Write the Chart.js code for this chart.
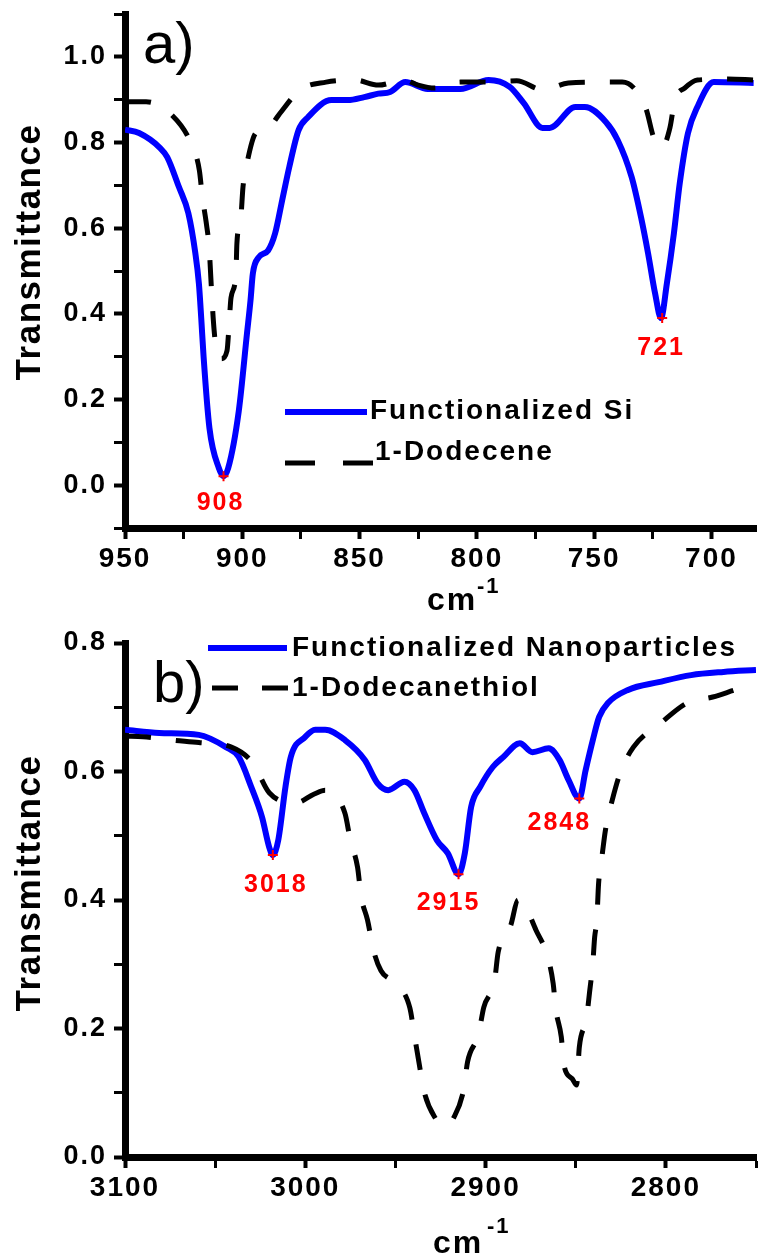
<!DOCTYPE html>
<html>
<head>
<meta charset="utf-8">
<title>FTIR transmittance</title>
<script src="https://cdn.jsdelivr.net/npm/chart.js@4.4.1/dist/chart.umd.min.js"></script>
<style>
  html, body { margin: 0; padding: 0; background: #fff; }
  #wrap { position: relative; width: 763px; height: 1258px; overflow: hidden; }
  #wrap canvas { position: absolute; left: 0; }
  #chart-a { top: 0; }
  #chart-b { top: 620px; }
</style>
</head>
<body>
<div id="wrap">
  <canvas id="chart-a" width="763" height="620"></canvas>
  <canvas id="chart-b" width="763" height="638"></canvas>
</div>
<script>
'use strict';

/* ─── Data: panel a (Si, 950–680 cm-1) ─────────────────────── */
const siWave  = [950, 944, 935, 932, 927, 923, 920, 918.5, 917.5, 916.5, 914, 910, 908, 906, 901.5, 898, 896.5, 895.5, 893, 889,
                 886, 883, 880, 876, 872, 862, 855, 848, 842, 837, 830.5, 821, 807, 795, 786, 780, 772, 769, 758, 754,
                 745, 740, 734, 730, 727, 724, 721.5, 719, 716, 713.5, 710, 706, 699, 682];
const siTrans = [0.83, 0.822, 0.787, 0.766, 0.696, 0.635, 0.541, 0.471, 0.39, 0.30, 0.133, 0.04, 0.021, 0.04, 0.173, 0.354, 0.431, 0.494, 0.532, 0.548,
                 0.588, 0.665, 0.742, 0.829, 0.859, 0.899, 0.899, 0.906, 0.914, 0.918, 0.941, 0.925, 0.925, 0.946, 0.93, 0.892, 0.834, 0.834, 0.883, 0.883,
                 0.848, 0.806, 0.719, 0.625, 0.541, 0.447, 0.39, 0.471, 0.588, 0.705, 0.822, 0.883, 0.941, 0.939];

const dodeceneWave  = [950, 941, 930, 922, 918.3, 917, 915.4, 914.1, 913.5, 912.8, 912, 910.7, 909, 906.5, 905.7, 904.8, 902.7, 902.3, 900.6, 899.7,
                       898, 894.3, 888.8, 884.5, 875.3, 864.3, 852, 842, 831, 825, 818, 807, 795, 783, 772, 761, 748.5, 738, 728, 724.5,
                       721, 717.7, 715.6, 711.4, 706, 693, 682];
const dodeceneTrans = [0.895, 0.895, 0.864, 0.80, 0.735, 0.672, 0.614, 0.553, 0.494, 0.424, 0.361, 0.302, 0.295, 0.314, 0.368, 0.438, 0.494, 0.564, 0.625, 0.696,
                       0.752, 0.822, 0.834, 0.864, 0.923, 0.941, 0.946, 0.934, 0.946, 0.934, 0.927, 0.941, 0.941, 0.944, 0.923, 0.939, 0.941, 0.941, 0.88, 0.81,
                       0.789, 0.834, 0.899, 0.927, 0.946, 0.948, 0.946];

const peaksAWave  = [908, 721];
const peaksATrans = [0.021, 0.39];

const xTicksA  = [950, 925, 900, 875, 850, 825, 800, 775, 750, 725, 700];
const xLabelsA = [950, 900, 850, 800, 750, 700];
const yTicksA  = [-0.1, 0, 0.1, 0.2, 0.3, 0.4, 0.5, 0.6, 0.7, 0.8, 0.9, 1.0, 1.1];
const yLabelsA = [0, 0.2, 0.4, 0.6, 0.8, 1.0];

/* ─── Data: panel b (nanoparticles, 3100–2750 cm-1) ────────── */
const npWave  = [3100, 3081, 3059, 3044, 3037, 3030, 3024, 3020, 3018, 3015, 3011, 3008, 3000, 2994.5, 2989, 2978, 2967, 2960, 2954, 2945,
                 2939.5, 2934, 2927, 2921, 2915, 2911.5, 2908, 2903, 2896, 2890, 2881, 2874, 2865, 2859, 2854, 2848, 2844.5, 2840.5, 2837, 2832,
                 2821, 2804, 2786, 2768, 2750];
const npTrans = [0.665, 0.66, 0.657, 0.638, 0.623, 0.576, 0.529, 0.482, 0.47, 0.493, 0.576, 0.623, 0.654, 0.665, 0.665, 0.649, 0.618, 0.582, 0.571, 0.584,
                 0.571, 0.535, 0.493, 0.473, 0.44, 0.473, 0.545, 0.576, 0.607, 0.623, 0.644, 0.63, 0.636, 0.618, 0.587, 0.558, 0.602, 0.649, 0.685, 0.707,
                 0.727, 0.739, 0.75, 0.755, 0.758];

const thiolWave  = [3100, 3090, 3074, 3059, 3041, 3029, 3020, 3005.5, 2995, 2989, 2978, 2975, 2971, 2969, 2965.5, 2962, 2958, 2950, 2942, 2939.5,
                    2937, 2934, 2928, 2923, 2917.5, 2912, 2910, 2904, 2901, 2895, 2893, 2886, 2882, 2879, 2872, 2865.5, 2862.5, 2861, 2858, 2856.5,
                    2852, 2849.5, 2848, 2844, 2842.3, 2840.5, 2839.5, 2838.3, 2837.3, 2835.2, 2833.5, 2829.7, 2825.3, 2818, 2803, 2788, 2774, 2758, 2750];
const thiolTrans = [0.655, 0.654, 0.649, 0.645, 0.638, 0.613, 0.567, 0.551, 0.565, 0.571, 0.535, 0.493, 0.451, 0.405, 0.369, 0.32, 0.29, 0.27, 0.232, 0.19,
                    0.148, 0.101, 0.061, 0.048, 0.062, 0.107, 0.148, 0.19, 0.233, 0.275, 0.319, 0.361, 0.40, 0.395, 0.353, 0.311, 0.27, 0.229, 0.187, 0.143,
                    0.122, 0.112, 0.171, 0.216, 0.257, 0.302, 0.342, 0.369, 0.426, 0.473, 0.509, 0.556, 0.598, 0.638, 0.675, 0.707, 0.716, 0.73, 0.735];

const peaksBWave  = [3018, 2915, 2848];
const peaksBTrans = [0.47, 0.44, 0.558];

const xTicksB  = [3100, 3050, 3000, 2950, 2900, 2850, 2800, 2750];
const xLabelsB = [3100, 3000, 2900, 2800];
const yTicksB  = [0, 0.1, 0.2, 0.3, 0.4, 0.5, 0.6, 0.7, 0.8];
const yLabelsB = [0, 0.2, 0.4, 0.6, 0.8];

/* ─── Shared styling ───────────────────────────────────────── */
const FONT = "'Liberation Sans', Arial, Helvetica, sans-serif";
Chart.defaults.font.family = FONT;
Chart.defaults.color = '#000';

function toPoints(xs, ys) {
  return xs.map((x, i) => ({ x, y: ys[i] }));
}

// Origin-style axis: thick spine, outward ticks, labels only on major ticks
function axis(o) {
  return {
    type: 'linear',
    position: o.position,
    min: o.min,
    max: o.max,
    reverse: !!o.reverse,
    afterBuildTicks: s => { s.ticks = o.ticks.map(v => ({ value: v })); },
    afterFit: s => {
      if (o.position === 'left') s.width = o.size; else s.height = o.size;
      s.paddingTop = s.paddingBottom = s.paddingLeft = s.paddingRight = 0;
    },
    border: { display: true, color: '#000', width: 7 },
    grid: {
      drawOnChartArea: false,
      drawTicks: true,
      tickLength: 11,
      tickColor: '#000',
      tickWidth: c => (c.tick && o.labels.includes(c.tick.value)) ? 4 : 3
    },
    ticks: {
      autoSkip: false,
      maxRotation: 0,
      padding: o.pad,
      color: '#000',
      font: { size: o.fontSize, weight: 'bold' },
      callback: v => o.labels.includes(v) ? v.toFixed(o.digits) : ''
    }
  };
}

/* ─── Text, legend and peak labels drawn on top ────────────── */
const figureText = {
  id: 'figureText',
  beforeDraw(chart) {
    chart.ctx.letterSpacing = '2px';
  },
  afterDraw(chart, args, o) {
    const ctx = chart.ctx;
    ctx.save();
    ctx.fillStyle = '#000';
    ctx.textAlign = 'left';
    ctx.textBaseline = 'alphabetic';

    // panel letter
    ctx.letterSpacing = '0px';
    ctx.font = `58px ${FONT}`;
    ctx.fillText(o.letter.text, o.letter.x, o.letter.y);

    // y title (rotated)
    ctx.save();
    ctx.letterSpacing = '1.5px';
    ctx.font = `bold 35px ${FONT}`;
    ctx.translate(o.yTitle.x, o.yTitle.y);
    ctx.rotate(-Math.PI / 2);
    ctx.textAlign = 'center';
    ctx.textBaseline = 'middle';
    ctx.fillText(o.yTitle.text, 0, 0);
    ctx.restore();

    // x title with superscript
    ctx.letterSpacing = '2px';
    ctx.font = `bold 32px ${FONT}`;
    ctx.fillText(o.xTitle.text, o.xTitle.x, o.xTitle.y);
    ctx.font = `bold 22px ${FONT}`;
    ctx.fillText(o.xTitle.sup, o.xTitle.supX, o.xTitle.supY);

    // legend
    ctx.font = `bold 28px ${FONT}`;
    ctx.textBaseline = 'middle';
    o.legend.forEach(item => {
      const ds = chart.data.datasets[item.index];
      ctx.save();
      ctx.strokeStyle = ds.borderColor;
      ctx.lineWidth = ds.borderWidth;
      ctx.setLineDash(item.dash || []);
      ctx.beginPath();
      ctx.moveTo(item.x1, item.y);
      ctx.lineTo(item.x2, item.y);
      ctx.stroke();
      ctx.restore();
      ctx.fillText(ds.label, item.tx, item.ty);
    });

    // peak labels, placed from the peak markers
    const meta = chart.getDatasetMeta(o.peaks.index);
    const pds  = chart.data.datasets[o.peaks.index];
    ctx.fillStyle = '#ff0000';
    ctx.font = `bold 25px ${FONT}`;
    ctx.textAlign = 'center';
    meta.data.forEach((pt, i) => {
      const off = o.peaks.offsets[i];
      ctx.fillText(String(pds.data[i].x), pt.x + off[0], pt.y + off[1]);
    });
    ctx.restore();
  }
};

function spectrumChart(id, cfg) {
  return new Chart(document.getElementById(id), {
    type: 'line',
    data: {
      datasets: [
        {
          label: cfg.blueLabel,
          data: toPoints(cfg.blueWave, cfg.blueTrans),
          borderColor: '#0000ff',
          borderWidth: 6,
          pointRadius: 0,
          cubicInterpolationMode: 'monotone',
          order: 2
        },
        {
          label: cfg.dashLabel,
          data: toPoints(cfg.dashWave, cfg.dashTrans),
          borderColor: '#000000',
          borderWidth: 5,
          borderDash: [26, 25],
          pointRadius: 0,
          cubicInterpolationMode: 'monotone',
          order: 1
        },
        {
          label: 'peaks',
          data: toPoints(cfg.peakWave, cfg.peakTrans),
          showLine: false,
          pointStyle: 'cross',
          pointRadius: 5,
          pointBorderWidth: 2,
          pointBorderColor: '#ff0000',
          borderColor: '#ff0000',
          order: 0
        }
      ]
    },
    options: {
      responsive: false,
      animation: false,
      events: [],
      devicePixelRatio: 1,
      layout: { padding: { top: cfg.top, right: 0, bottom: 0, left: 0 } },
      scales: {
        x: axis({ position: 'bottom', min: cfg.xMin, max: cfg.xMax, reverse: true,
                  ticks: cfg.xTicks, labels: cfg.xLabels, digits: 0,
                  size: cfg.xSize, pad: 3, fontSize: 28 }),
        y: axis({ position: 'left', min: cfg.yMin, max: cfg.yMax,
                  ticks: cfg.yTicks, labels: cfg.yLabels, digits: 1,
                  size: 125, pad: 7, fontSize: 27 })
      },
      plugins: {
        legend: { display: false },
        tooltip: { enabled: false },
        figureText: cfg.text
      }
    },
    plugins: [figureText]
  });
}

/* ─── Panel a ───────────────────────────────────────────────── */
spectrumChart('chart-a', {
  blueLabel: 'Functionalized Si', blueWave: siWave, blueTrans: siTrans,
  dashLabel: '1-Dodecene', dashWave: dodeceneWave, dashTrans: dodeceneTrans,
  peakWave: peaksAWave, peakTrans: peaksATrans,
  xMin: 681, xMax: 950, xTicks: xTicksA, xLabels: xLabelsA,
  yMin: -0.1, yMax: 1.1, yTicks: yTicksA, yLabels: yLabelsA,
  top: 14, xSize: 92,
  text: {
    letter: { text: 'a)', x: 143, y: 63 },
    yTitle: { text: 'Transmittance', x: 30, y: 252 },
    xTitle: { text: 'cm', x: 427, y: 610, sup: '-1', supX: 477, supY: 593 },
    legend: [
      { index: 0, x1: 285, x2: 367, y: 412, tx: 370, ty: 411 },
      { index: 1, x1: 285, x2: 373, y: 463, tx: 375, ty: 452, dash: [30, 28] }
    ],
    peaks: { index: 2, offsets: [[-3, 27], [-1, 30]] }
  }
});

/* ─── Panel b ───────────────────────────────────────────────── */
spectrumChart('chart-b', {
  blueLabel: 'Functionalized Nanoparticles', blueWave: npWave, blueTrans: npTrans,
  dashLabel: '1-Dodecanethiol', dashWave: thiolWave, dashTrans: thiolTrans,
  peakWave: peaksBWave, peakTrans: peaksBTrans,
  xMin: 2750, xMax: 3100, xTicks: xTicksB, xLabels: xLabelsB,
  yMin: 0, yMax: 0.8, yTicks: yTicksB, yLabels: yLabelsB,
  top: 23, xSize: 101,
  text: {
    letter: { text: 'b)', x: 153, y: 82 },
    yTitle: { text: 'Transmittance', x: 30, y: 263 },
    xTitle: { text: 'cm', x: 433, y: 633, sup: '-1', supX: 487, supY: 613 },
    legend: [
      { index: 0, x1: 208, x2: 287, y: 28, tx: 292, ty: 28 },
      { index: 1, x1: 212, x2: 288, y: 68, tx: 292, ty: 68, dash: [26, 24] }
    ],
    peaks: { index: 2, offsets: [[3, 30], [-10, 29], [-20, 25]] }
  }
});
</script>
</body>
</html>
